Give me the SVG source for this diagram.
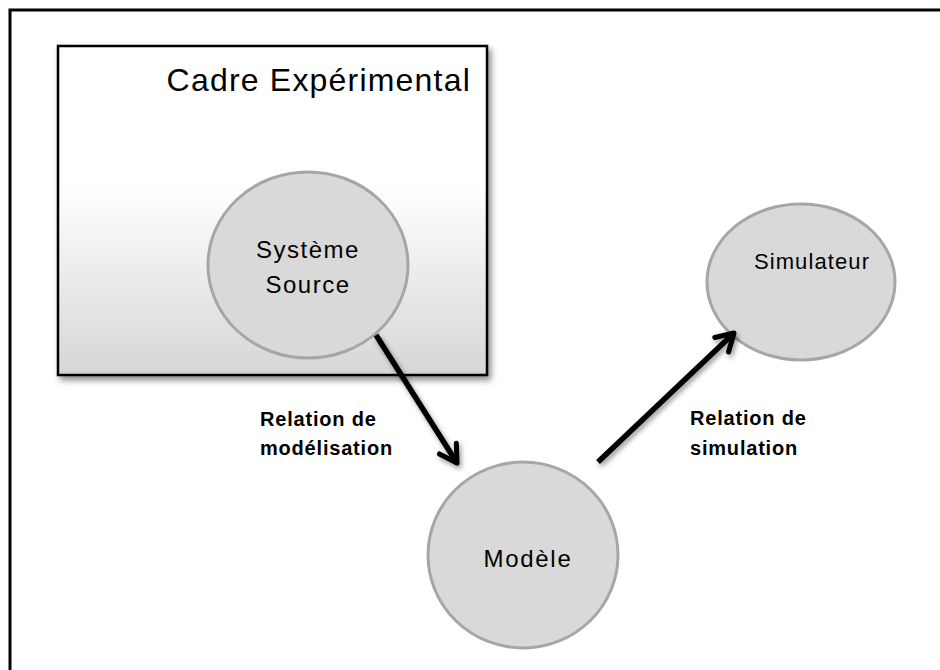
<svg xmlns="http://www.w3.org/2000/svg" width="940" height="670" viewBox="0 0 940 670">
<defs>
<linearGradient id="boxGrad" x1="0" y1="0" x2="0" y2="1">
<stop offset="0" stop-color="#ffffff"/>
<stop offset="0.42" stop-color="#ffffff"/>
<stop offset="1" stop-color="#d6d6d6"/>
</linearGradient>
<filter id="shadow" x="-10%" y="-10%" width="130%" height="130%">
<feDropShadow dx="3" dy="4" stdDeviation="3" flood-color="#000" flood-opacity="0.45"/>
</filter>
<filter id="ashadow" x="-20%" y="-20%" width="150%" height="150%">
<feDropShadow dx="2" dy="3" stdDeviation="2.5" flood-color="#000" flood-opacity="0.4"/>
</filter>
<marker id="arrow" viewBox="0 0 26 26" refX="20" refY="13" markerWidth="26" markerHeight="26" markerUnits="userSpaceOnUse" orient="auto">
<path d="M3,3 L20,13 L3,23" fill="none" stroke="#000" stroke-width="5" stroke-linecap="round" stroke-linejoin="round"/>
</marker>
<style>
.node { fill: #d9d9d9; stroke: #a6a6a6; stroke-width: 3; }
.lbl { font-family: "Liberation Sans", Arial, sans-serif; fill: #000; text-anchor: middle; }
.rel { font-family: "Liberation Sans", Arial, sans-serif; font-weight: bold; font-size: 20px; letter-spacing: 0.8px; fill: #000; }
.conn { stroke: #000; stroke-width: 5.5; fill: none; marker-end: url(#arrow); }
</style>
</defs>
<rect x="0" y="0" width="940" height="670" fill="#ffffff"/>
<rect id="frame" x="10" y="10" width="960" height="700" fill="none" stroke="#000" stroke-width="3"/>
<g id="cadre">
<rect x="58" y="46" width="429" height="329" fill="url(#boxGrad)" stroke="#000" stroke-width="2.5" filter="url(#shadow)"/>
<text x="471" y="91" font-family="Liberation Sans, Arial, sans-serif" font-size="32" letter-spacing="1.2" text-anchor="end" fill="#000">Cadre Expérimental</text>
</g>
<g id="systeme-source">
<ellipse class="node" cx="308" cy="265" rx="100" ry="93"/>
<text class="lbl" x="308" y="258" font-size="24" letter-spacing="1.5">Système</text>
<text class="lbl" x="308" y="293" font-size="24" letter-spacing="1.5">Source</text>
</g>
<g id="modele">
<ellipse class="node" cx="523" cy="555" rx="95" ry="93"/>
<text class="lbl" x="528" y="567" font-size="24" letter-spacing="1.7">Modèle</text>
</g>
<g id="simulateur">
<ellipse class="node" cx="801" cy="282" rx="94" ry="78"/>
<text class="lbl" x="812" y="269" font-size="22" letter-spacing="1.1">Simulateur</text>
</g>
<g id="connectors" filter="url(#ashadow)">
<line class="conn" x1="376" y1="335" x2="457" y2="463"/>
<line class="conn" x1="598" y1="462" x2="734" y2="333"/>
</g>
<g id="labels">
<text class="rel" x="260" y="426">Relation de</text>
<text class="rel" x="260" y="455">modélisation</text>
<text class="rel" x="690" y="425">Relation de</text>
<text class="rel" x="690" y="455">simulation</text>
</g>
</svg>
